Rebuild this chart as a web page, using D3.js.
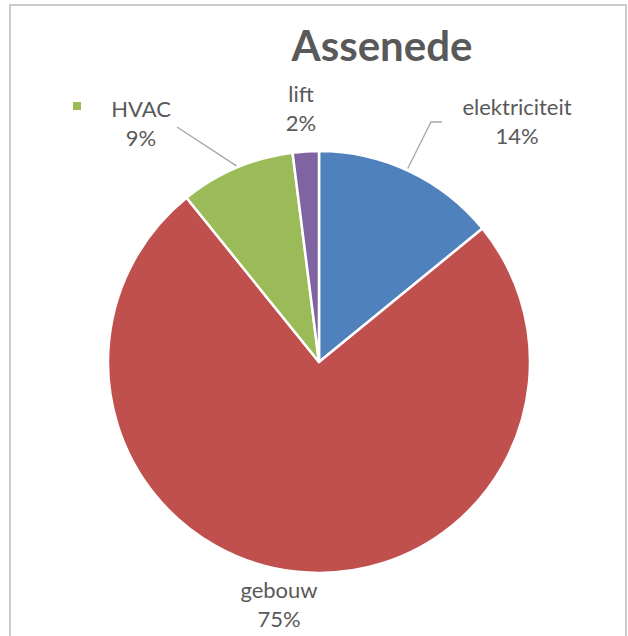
<!DOCTYPE html>
<html><head><meta charset="utf-8">
<script src="https://cdn.jsdelivr.net/npm/d3@7"></script>
<style>html,body{margin:0;padding:0;background:#fff;}svg{display:block;}</style>
</head><body>
<script>
const title = "Assenede";
const categories = ["elektriciteit", "gebouw", "HVAC", "lift"];
const values = [14.1, 75.1, 8.8, 2.0];
const colors = ["#4f81bd", "#c0504d", "#9bbb59", "#8064a2"];
const legendCategories = ["HVAC"];

const W = 628, H = 636;
const svg = d3.select("body").append("svg").attr("width", W).attr("height", H);
const font = "Lato, 'Open Sans', sans-serif";
const textColor = "#595959";

// frame
svg.append("rect").attr("x", 10).attr("y", 5).attr("width", 616).attr("height", H + 20)
  .attr("fill", "#fff").attr("stroke", "#cccccc").attr("stroke-width", 2);

// title
svg.append("text").attr("x", 382).attr("y", 61).attr("text-anchor", "middle")
  .attr("font-family", font).attr("font-weight", "bold").attr("font-size", 42)
  .attr("fill", textColor).text(title);

const cx = 319, cy = 362, R = 211;
const data = categories.map((c, i) => ({ name: c, value: values[i], color: colors[i] }));
const total = d3.sum(values);
const pie = d3.pie().value(d => d.value).sort(null);
const arcs = pie(data);
const arc = d3.arc().innerRadius(0).outerRadius(R);

const g = svg.append("g").attr("transform", `translate(${cx},${cy})`);
g.selectAll("path").data(arcs).join("path")
  .attr("d", arc).attr("fill", d => d.data.color)
  .attr("stroke", "#fff").attr("stroke-width", 2.5).attr("stroke-linejoin", "round");

// labels
const labelPos = {
  "elektriciteit": [517, 115],
  "gebouw": [279, 598],
  "HVAC": [141, 117],
  "lift": [301, 102]
};
const lh = 28.5;
arcs.forEach(a => {
  const [lx, ly] = labelPos[a.data.name];
  const t = svg.append("text").attr("text-anchor", "middle")
    .attr("font-family", font).attr("font-size", 22).attr("fill", textColor);
  t.append("tspan").attr("x", lx).attr("y", ly).text(a.data.name);
  t.append("tspan").attr("x", lx).attr("y", ly + lh).text(Math.round(a.data.value / total * 100) + "%");
});

// leader lines
function edgePoint(a, frac) {
  const ang = a.startAngle + (a.endAngle - a.startAngle) * frac;
  return [cx + R * Math.sin(ang), cy - R * Math.cos(ang)];
}
const aE = arcs[0], aH = arcs[2];
const pE = edgePoint(aE, 0.49);
svg.append("polyline").attr("fill", "none").attr("stroke", "#a6a6a6").attr("stroke-width", 1.3)
  .attr("points", [[442, 122], [431, 122], [pE[0], pE[1] - 2]].map(p => p.join(",")).join(" "));
const pH = edgePoint(aH, 0.5);
svg.append("polyline").attr("fill", "none").attr("stroke", "#a6a6a6").attr("stroke-width", 1.3)
  .attr("points", [[177, 127], [pH[0], pH[1] - 2]].map(p => p.join(",")).join(" "));

// legend marker
legendCategories.forEach(name => {
  const i = categories.indexOf(name);
  svg.append("rect").attr("x", 73).attr("y", 102).attr("width", 8).attr("height", 8).attr("fill", colors[i]);
});
</script>
</body></html>
